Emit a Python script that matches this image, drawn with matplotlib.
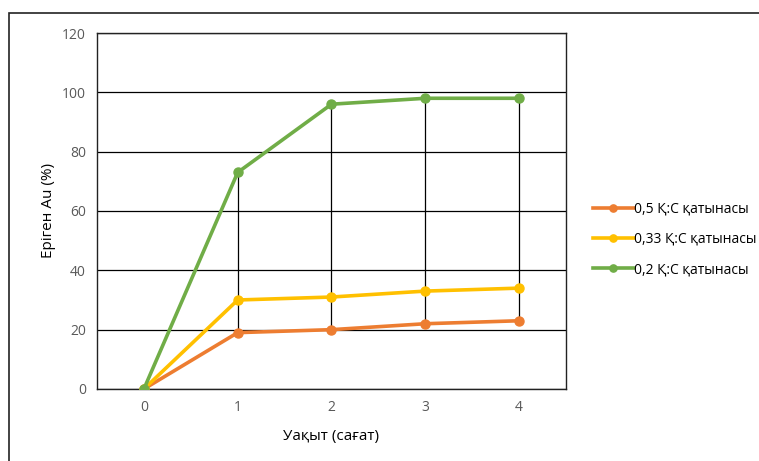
import matplotlib.pyplot as plt
from matplotlib.patches import Rectangle

# ── Data ──────────────────────────────────────────────
hours = [0, 1, 2, 3, 4]
ratio_05 = [0, 19, 20, 22, 23]
ratio_033 = [0, 30, 31, 33, 34]
ratio_02 = [0, 73, 96, 98, 98]
labels = ["0,5 Қ:С қатынасы", "0,33 Қ:С қатынасы", "0,2 Қ:С қатынасы"]
colors = ["#ED7D31", "#FFC000", "#70AD47"]

plt.rcParams["font.family"] = ["Open Sans", "DejaVu Sans"]

fig = plt.figure(figsize=(7.59, 4.61), dpi=100)
ax = fig.add_axes([0.1278, 0.1562, 0.6179, 0.7722])

# outer chart border
fig.patches.append(Rectangle((9 / 759, -0.05), 1.0, 1 - 13 / 461 + 0.05,
                             transform=fig.transFigure, fill=False,
                             edgecolor="#222222", linewidth=1.2))

# high-low lines between top and bottom series
for x, lo, hi in zip(hours[1:], ratio_05[1:], ratio_02[1:]):
    ax.vlines(x, lo, hi, color="black", linewidth=0.9, zorder=2)

for series, lab, col in zip([ratio_05, ratio_033, ratio_02], labels, colors):
    ax.plot(hours, series, color=col, linewidth=2.6, marker="o",
            markersize=6.5, label=lab, zorder=3)

ax.set_xlim(-0.5, 4.5)
ax.set_ylim(0, 120)
ax.set_yticks(range(0, 121, 20))
ax.set_xticks(hours)
ax.grid(axis="y", color="black", linewidth=0.9)
ax.set_axisbelow(True)
for sp in ax.spines.values():
    sp.set_color("#222222")
    sp.set_linewidth(1.0)
ax.tick_params(length=0, labelsize=10, labelcolor="#595959", pad=8)

ax.set_xlabel("Уақыт (сағат)", fontsize=11, labelpad=10)
ax.set_ylabel("Еріген Au (%)", fontsize=11, labelpad=4)

ax.legend(loc="center left", bbox_to_anchor=(1.03, 0.42), frameon=False,
          fontsize=10, handlelength=3, labelspacing=1.1, handletextpad=0.0,
          markerscale=0.8)

fig.savefig("out.png", dpi=100)
